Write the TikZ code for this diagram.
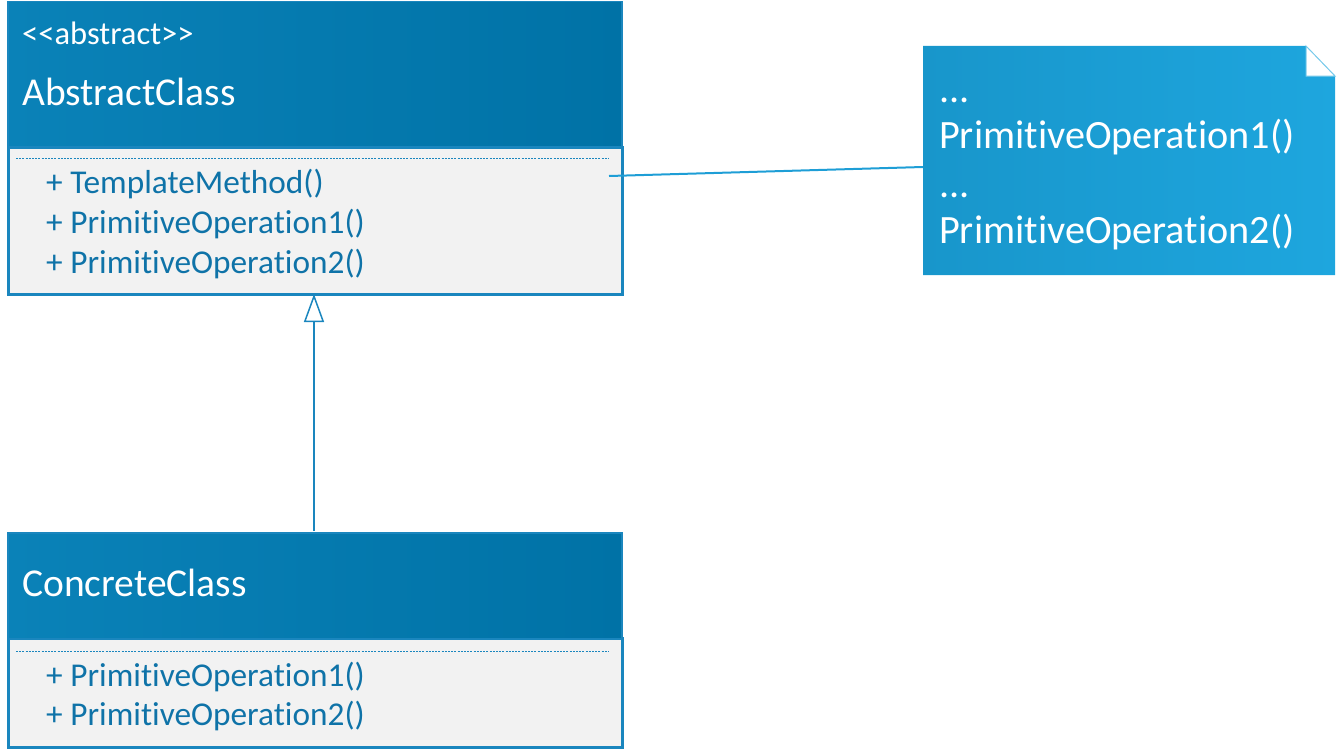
\documentclass[tikz,border=0pt]{standalone}
\usepackage{fontspec}
\setmainfont{Carlito}[Ligatures={TeXOff,NoCommon}]
\usetikzlibrary{arrows.meta}
\definecolor{hdrL}{HTML}{0A82B8}
\definecolor{hdrR}{HTML}{0072A6}
\definecolor{boxline}{HTML}{1A86BE}
\definecolor{bodyfill}{HTML}{F2F2F2}
\definecolor{methodcol}{HTML}{0F73A8}
\definecolor{noteL}{HTML}{1896CB}
\definecolor{noteR}{HTML}{1EA6DE}
\definecolor{linkcol}{HTML}{1E9ED6}
\begin{document}
\begin{tikzpicture}[x=1pt,y=-1pt,
  header/.style={left color=hdrL,right color=hdrR,draw=boxline,line width=1.5pt},
  body/.style={fill=bodyfill,draw=boxline,line width=2.5pt},
  sep/.style={draw=boxline,line width=0.8pt,dash pattern=on 2pt off 1.2pt},
  title/.style={anchor=base west,inner sep=0pt,text=white,font=\fontsize{39.5}{44}\selectfont},
  stereo/.style={anchor=base west,inner sep=0pt,text=white,font=\fontsize{32.5}{36}\selectfont},
  method/.style={anchor=base west,inner sep=0pt,text=methodcol,font=\fontsize{33.3}{38}\selectfont},
  notetext/.style={anchor=base west,inner sep=0pt,text=white,font=\fontsize{40.2}{48}\selectfont},
  link/.style={draw=linkcol,line width=2pt},
  inherit/.style={draw=boxline,line width=1.5pt,-{Triangle[open,length=28pt,width=20pt,line width=1.5pt]}}
]
\useasboundingbox (0,0) rectangle (1337,752);
% Abstract class
\node[body,minimum width=614pt,minimum height=147pt,anchor=north west,inner sep=0pt] (absbody) at (7,146) {};
\node[header,minimum width=614pt,minimum height=145pt,anchor=north west,inner sep=0pt] (abshead) at (7,1) {};
\draw[sep] (16,158) -- (609,158);
\node[stereo] (stereo) at (22,45) {<<abstract>>};
\node[title] (abstitle) at (22,105) {AbstractClass};
\node[method] (m1) at (46,193) {+ TemplateMethod()};
\node[method] (m2) at (46,233) {+ PrimitiveOperation1()};
\node[method] (m3) at (46,273) {+ PrimitiveOperation2()};
% Concrete class
\node[body,minimum width=614pt,minimum height=109pt,anchor=north west,inner sep=0pt] (conbody) at (7,637) {};
\node[header,minimum width=614pt,minimum height=106pt,anchor=north west,inner sep=0pt] (conhead) at (7,532) {};
\draw[sep] (16,651) -- (609,651);
\node[title] (contitle) at (22,596) {ConcreteClass};
\node[method] (c1) at (46,686) {+ PrimitiveOperation1()};
\node[method] (c2) at (46,725) {+ PrimitiveOperation2()};
% Note
\shade[left color=noteL,right color=noteR] (923,46) -- (1306,46) -- (1335,76) -- (1335,275) -- (923,275) -- cycle;
\draw[draw=noteR!60!white,line width=1pt,fill=white] (1306,46) -- (1306,76) -- (1335,76) -- cycle;
\coordinate (noteW) at (923,167);
\node[notetext] (n1) at (939,102) {...};
\node[notetext] (n2) at (939,148) {PrimitiveOperation1()};
\node[notetext] (n3) at (939,197) {...};
\node[notetext] (n4) at (939,243) {PrimitiveOperation2()};
% connectors
\coordinate (linkA) at (609,176);
\draw[link] (linkA) -- (noteW);
\coordinate (inhS) at (314,531);
\coordinate (inhT) at (314,294);
\draw[inherit] (inhS) -- (inhT);
\end{tikzpicture}
\end{document}
